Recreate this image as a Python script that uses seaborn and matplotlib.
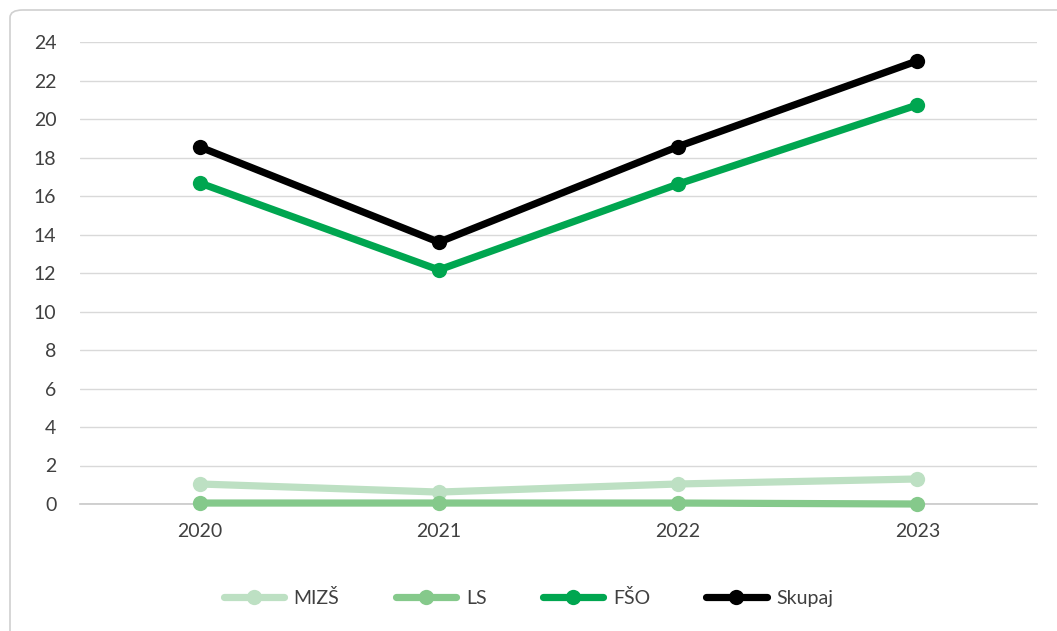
import matplotlib
matplotlib.use("Agg")
import matplotlib.pyplot as plt
import seaborn as sns
import pandas as pd
from matplotlib.patches import FancyBboxPatch

years = ["2020", "2021", "2022", "2023"]
mizs = [1.04, 0.62, 1.04, 1.3]
ls = [0.05, 0.05, 0.05, 0.0]
fso = [16.68, 12.16, 16.62, 20.73]
skupaj = [18.55, 13.6, 18.57, 23.02]
series_names = ["MIZŠ", "LS", "FŠO", "Skupaj"]
colors = ["#bde0c3", "#85c98b", "#00a650", "#000000"]
y_ticks = list(range(0, 25, 2))

sns.set_theme(style="white")
plt.rcParams['font.family'] = ['Lato', 'DejaVu Sans']

fig = plt.figure(figsize=(10.57, 6.31), dpi=100)
ax = fig.add_axes([80/1057, (631-504)/631, (1037-80)/1057, (504-42)/631])

# rounded frame
frame = FancyBboxPatch((10/1057, -30/631), 1100/1057, 651/631,
                       boxstyle="round,pad=0,rounding_size=0.012",
                       transform=fig.transFigure, facecolor="none",
                       edgecolor="#d0d0d0", linewidth=1.2, clip_on=False)
fig.patches.append(frame)

df = pd.DataFrame({
    "x": list(range(len(years))) * 4,
    "value": mizs + ls + fso + skupaj,
    "series": sum([[n] * len(years) for n in series_names], []),
})

for i, (name, col) in enumerate(zip(series_names, colors)):
    sub = df[df["series"] == name]
    sns.lineplot(data=sub, x="x", y="value", ax=ax, color=col, linewidth=5.2,
                 marker="o", markersize=11, markeredgewidth=0,
                 label=name, solid_capstyle="round", zorder=5 + i, clip_on=False)

ax.set_xlim(-0.5, 3.5)
ax.set_ylim(0, 24)
ax.set_yticks(y_ticks)
ax.set_yticklabels([str(t) for t in y_ticks], fontsize=14, color="#404040")
ax.set_xticks(range(len(years)))
ax.set_xticklabels(years, fontsize=14, color="#404040")
ax.tick_params(axis="x", length=0, pad=14)
ax.tick_params(axis="y", length=0, pad=17)
ax.set_xticks([-0.5, 0.5, 1.5, 2.5, 3.5], minor=True)
ax.tick_params(axis="x", which="minor", length=8, color="#c8c8c8", width=1, direction="out")
ax.grid(axis="y", color="#d9d9d9", linewidth=1)
ax.set_axisbelow(True)
for s in ["top", "right", "left"]:
    ax.spines[s].set_visible(False)
ax.spines["bottom"].set_color("#c8c8c8")
ax.spines["bottom"].set_linewidth(1.2)
ax.spines["bottom"].set_zorder(1)
ax.set_xlabel("")
ax.set_ylabel("")

leg = ax.legend(loc="center", bbox_to_anchor=(0.5, (631-598)/631), bbox_transform=fig.transFigure,
                ncol=4, frameon=False, fontsize=14, handlelength=3.1, columnspacing=2.9, handletextpad=0.5)
for t in leg.get_texts():
    t.set_color("#404040")

fig.savefig("out.png", dpi=100)
